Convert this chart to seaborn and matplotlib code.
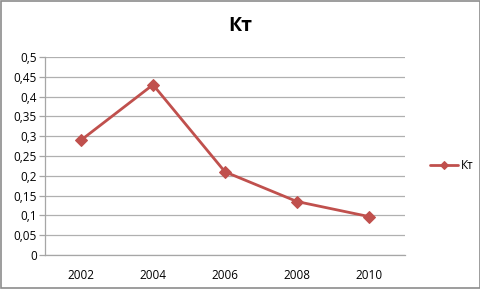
import matplotlib
matplotlib.use("Agg")
import matplotlib.pyplot as plt
import seaborn as sns
import pandas as pd
from matplotlib.ticker import FixedLocator, FuncFormatter, MultipleLocator
from matplotlib.patches import Rectangle

years = ["2002", "2004", "2006", "2008", "2010"]
kt = [0.29, 0.43, 0.21, 0.135, 0.097]
series_name = "Кт"
title = "Кт"

sns.set_style("white")
plt.rcParams['font.family'] = ['Open Sans', 'DejaVu Sans']
plt.rcParams['text.color'] = 'black'
plt.rcParams['xtick.color'] = 'black'
plt.rcParams['ytick.color'] = 'black'

df = pd.DataFrame({"year": years, "value": kt, "series": series_name})

fig = plt.figure(figsize=(4.81, 2.89), dpi=100)
ax = fig.add_axes([45/481, 1-255/289, (405-45)/481, (255-57)/289])

red = "#C0504D"
sns.lineplot(data=df, x="year", y="value", hue="series", palette=[red],
             marker="D", markersize=6, markeredgecolor=red, linewidth=2, ax=ax, sort=False)

ax.set_xlim(-0.5, len(years) - 0.5)
ax.set_ylim(0, 0.5)
ax.yaxis.set_major_locator(MultipleLocator(0.05))
ax.yaxis.set_major_formatter(FuncFormatter(lambda v, p: ("%g" % round(v, 2)).replace(".", ",")))
ax.grid(axis="y", color="#B0B0B0", linewidth=0.9)
ax.set_axisbelow(True)
for s in ["top", "right"]:
    ax.spines[s].set_visible(False)
for s in ["left", "bottom"]:
    ax.spines[s].set_color("#A6A6A6")
    ax.spines[s].set_linewidth(0.9)
ax.set_xticks(range(len(years)))
ax.set_xticklabels(years)
ax.xaxis.set_minor_locator(FixedLocator([i - 0.5 for i in range(len(years) + 1)]))
ax.tick_params(axis="x", which="major", length=0, labelsize=8.5, pad=10, labelcolor="#000000")
ax.tick_params(axis="x", which="minor", length=4, color="#A6A6A6", width=0.9)
ax.tick_params(axis="y", length=4, color="#A6A6A6", width=0.9, labelsize=8.5, pad=2, left=True,
               labelcolor="#000000")
ax.set_xlabel("")
ax.set_ylabel("")

fig.suptitle(title, x=240/481, y=1-26/289, va="center", fontsize=14, fontweight="bold", color="black")

leg = ax.legend(loc="center left", bbox_to_anchor=(1.04, 0.45), frameon=False,
                fontsize=8.5, handlelength=2.4, handletextpad=0.2)
for h in leg.legend_handles:
    h.set_markersize(4)
for t in leg.get_texts():
    t.set_color("black")

fig.patches.append(Rectangle((0.002, 0.003), 0.995, 0.994, transform=fig.transFigure,
                             fill=False, edgecolor="#8C8C8C", linewidth=1.2))

fig.savefig("out.png", dpi=100)
